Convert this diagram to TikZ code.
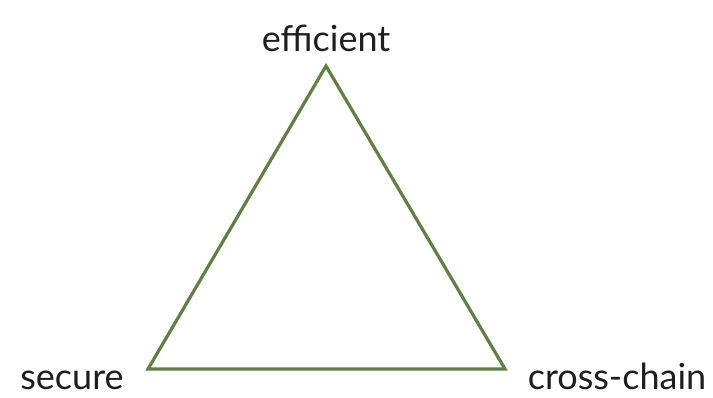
\documentclass[tikz,border=0pt]{standalone}
\usepackage{fontspec}
\setmainfont{Lato}
\definecolor{tri}{HTML}{5E8040}
\definecolor{txt}{HTML}{1E1E1E}
\tikzset{lab/.style={text=txt,font=\fontsize{36}{40}\selectfont,inner sep=0pt}}
\begin{document}
\begin{tikzpicture}[x=1pt,y=-1pt]
\useasboundingbox[fill=white] (0,0) rectangle (713,398);
\coordinate (t) at (326,66);
\coordinate (l) at (148,369);
\coordinate (r) at (505,369);
\draw[tri,line width=3.2pt,line join=miter] (t) -- (l) -- (r) -- cycle;
\node[lab,anchor=base] (e) at (326,52) {efficient};
\node[lab,anchor=base] (s) at (72,390) {secure};
\node[lab,anchor=base] (c) at (617,390) {cross-chain};
\end{tikzpicture}
\end{document}
